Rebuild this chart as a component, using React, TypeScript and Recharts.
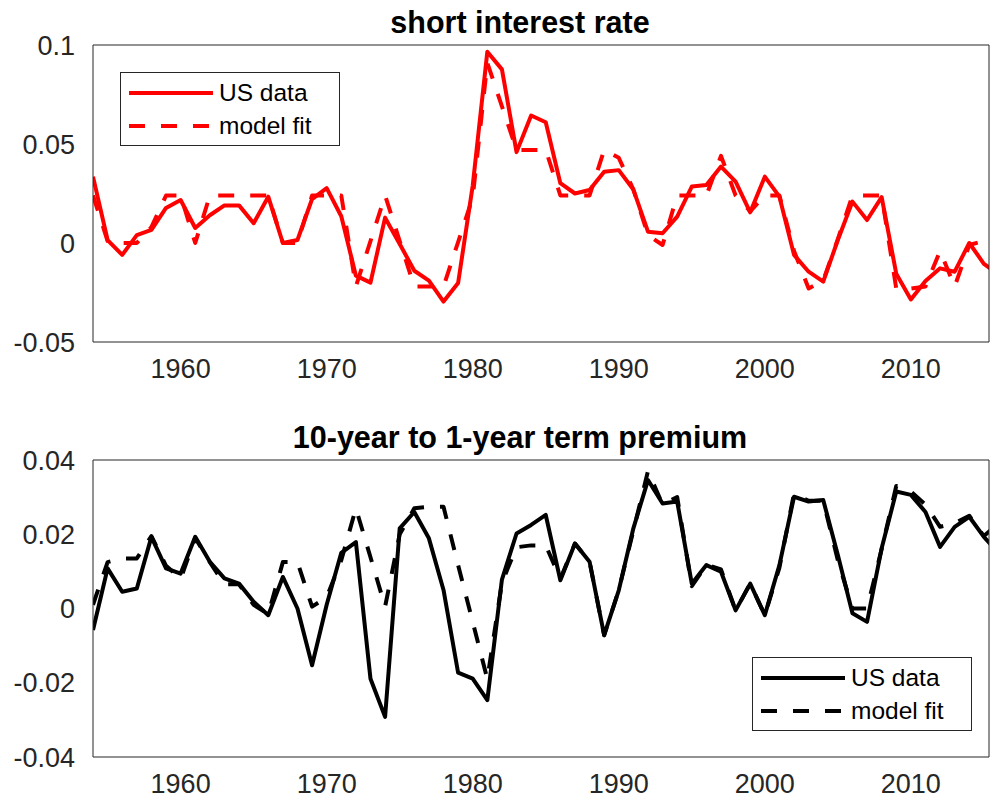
import { LineChart, Line, XAxis, YAxis, Legend } from 'recharts'

// annual observations
const years = [
  1954, 1955, 1956, 1957, 1958, 1959, 1960, 1961, 1962, 1963,
  1964, 1965, 1966, 1967, 1968, 1969, 1970, 1971, 1972, 1973,
  1974, 1975, 1976, 1977, 1978, 1979, 1980, 1981, 1982, 1983,
  1984, 1985, 1986, 1987, 1988, 1989, 1990, 1991, 1992, 1993,
  1994, 1995, 1996, 1997, 1998, 1999, 2000, 2001, 2002, 2003,
  2004, 2005, 2006, 2007, 2008, 2009, 2010, 2011, 2012, 2013,
  2014, 2015, 2016
]

// short interest rate
const rateUS = [
  0.0335, 0.0015, -0.006, 0.004, 0.0066, 0.0177, 0.0217, 0.0076, 0.014, 0.019,
  0.019, 0.010, 0.0234, 0.0, 0.0015, 0.0222, 0.0277, 0.0135, -0.0165, -0.020,
  0.0128, -0.0005, -0.014, -0.019, -0.0296, -0.0202, 0.029, 0.0966, 0.0877, 0.0459,
  0.0644, 0.061, 0.0302, 0.025, 0.0268, 0.036, 0.0368, 0.027, 0.0057, 0.0049,
  0.0133, 0.0285, 0.0293, 0.0386, 0.031, 0.0155, 0.0335, 0.0234, -0.006, -0.0145,
  -0.0195, 0.0015, 0.0209, 0.0116, 0.0232, -0.0155, -0.0285, -0.0192, -0.0128, -0.0145,
  0.0, -0.0105, -0.016
]
const rateModel = [
  0.024, 0.001, 0.0, 0.0, 0.008, 0.024, 0.024, 0.0, 0.024, 0.024,
  0.024, 0.024, 0.024, 0.0, 0.0, 0.024, 0.024, 0.024, -0.022, 0.001,
  0.024, 0.001, -0.022, -0.022, -0.022, 0.0005, 0.023, 0.091, 0.069, 0.047,
  0.047, 0.047, 0.024, 0.024, 0.024, 0.047, 0.043, 0.027, 0.004, -0.001,
  0.024, 0.024, 0.024, 0.044, 0.024, 0.016, 0.024, 0.024, -0.004, -0.023,
  -0.019, 0.002, 0.024, 0.024, 0.024, -0.023, -0.023, -0.022, -0.004, -0.022,
  -0.001, 0.001, -0.005
]

// 10-year to 1-year term premium
const premiumUS = [
  -0.0058, 0.0108, 0.0045, 0.0054, 0.0193, 0.0108, 0.0094, 0.0193, 0.0126, 0.0081,
  0.0067, 0.0018, -0.0018, 0.0085, 0.0, -0.0153, 0.001, 0.015, 0.0179, -0.0189,
  -0.0292, 0.0216, 0.026, 0.0189, 0.005, -0.0173, -0.0189, -0.0247, 0.0078, 0.0202,
  0.0225, 0.0252, 0.0076, 0.0175, 0.0126, -0.0072, 0.0049, 0.0216, 0.0346, 0.0283,
  0.0288, 0.0067, 0.0117, 0.0099, -0.0005, 0.0067, -0.0018, 0.0117, 0.0301, 0.0288,
  0.0292, 0.0144, -0.0013, -0.0036, 0.0162, 0.0315, 0.0306, 0.026, 0.0166, 0.022,
  0.0247, 0.0193, 0.015
]
const premiumModel = [
  0.001, 0.0125, 0.0135, 0.0135, 0.0195, 0.0115, 0.008, 0.019, 0.0125, 0.0065,
  0.0065, 0.001, -0.0015, 0.0125, 0.0125, 0.0005, 0.003, 0.013, 0.027, 0.0138,
  0.0005, 0.02, 0.027, 0.0274, 0.0274, 0.0117, -0.0036, -0.019, 0.007, 0.0165,
  0.017, 0.017, 0.008, 0.0175, 0.0126, -0.0072, 0.005, 0.021, 0.037, 0.028,
  0.030, 0.006, 0.0118, 0.0105, -0.0005, 0.0067, -0.0018, 0.011, 0.031, 0.029,
  0.029, 0.013, 0.0, 0.0, 0.016, 0.033, 0.0315, 0.028, 0.022, 0.023,
  0.025, 0.0195, 0.023
]

const seriesNames = ['US data', 'model fit']

const yearTicks = [1960, 1970, 1980, 1990, 2000, 2010]
const rateTicks = [-0.05, 0, 0.05, 0.1]
const rateTickLabels = ['-0.05', '0', '0.05', '0.1']
const premiumTicks = [-0.04, -0.02, 0, 0.02, 0.04]
const premiumTickLabels = ['-0.04', '-0.02', '0', '0.02', '0.04']

const FONT = '"Liberation Sans", Arial, Helvetica, sans-serif'
const AXIS = '#262626'
const X_DOMAIN: [number, number] = [1954, 2015.35]

const rateRows = years.map((year, i) => ({ year, data: rateUS[i], model: rateModel[i] }))
const premiumRows = years.map((year, i) => ({ year, data: premiumUS[i], model: premiumModel[i] }))

function LegendBox({ payload }: any) {
  return (
    <div
      style={{
        width: 220,
        height: 74,
        boxSizing: 'border-box',
        border: `1px solid ${AXIS}`,
        background: '#fff',
        position: 'relative',
        fontFamily: FONT,
        fontSize: 24.5,
        color: '#000'
      }}
    >
      {(payload || []).map((entry: any, i: number) => (
        <div
          key={entry.value}
          style={{ position: 'absolute', left: 8, top: 5 + i * 33, height: 30, display: 'flex', alignItems: 'center' }}
        >
          <svg width={84} height={8} style={{ display: 'block' }}>
            <line
              x1={0}
              x2={84}
              y1={4}
              y2={4}
              stroke={entry.color}
              strokeWidth={4}
              strokeDasharray={entry.payload?.strokeDasharray}
            />
          </svg>
          <span style={{ marginLeft: 6, whiteSpace: 'nowrap' }}>{entry.value}</span>
        </div>
      ))}
    </div>
  )
}

interface PanelProps {
  title: string
  rows: any[]
  color: string
  yDomain: [number, number]
  yTicks: number[]
  yLabels: string[]
  top: number
  height: number
  plotTop: number
  axisHeight: number
  titleTop: number
  legendLeft: number
  legendTop: number
}

function Panel({ title, rows, color, yDomain, yTicks, yLabels, top, height, plotTop, axisHeight, titleTop, legendLeft, legendTop }: PanelProps) {
  const tickStyle = { fontSize: 27, fill: AXIS, fontFamily: FONT }
  return (
    <div style={{ position: 'absolute', left: 0, top, width: 990, height }}>
      <div
        style={{
          position: 'absolute',
          left: 20,
          width: 1000,
          top: titleTop,
          textAlign: 'center',
          fontFamily: FONT,
          fontWeight: 'bold',
          fontSize: 30.5,
          lineHeight: '32px',
          color: '#000',
          whiteSpace: 'nowrap'
        }}
      >
        {title}
      </div>
      <LineChart width={990} height={height} data={rows} margin={{ top: plotTop, right: 1, bottom: 0, left: 0 }}>
        <XAxis
          xAxisId="bottom"
          dataKey="year"
          type="number"
          domain={X_DOMAIN}
          allowDataOverflow
          ticks={yearTicks}
          height={axisHeight}
          tickLine={false}
          tickSize={0}
          tickMargin={17}
          tick={tickStyle}
          axisLine={{ stroke: AXIS }}
        />
        <XAxis
          xAxisId="bottomTicks"
          dataKey="year"
          type="number"
          orientation="bottom"
          mirror
          domain={X_DOMAIN}
          allowDataOverflow
          ticks={yearTicks}
          tick={false}
          tickSize={10}
          tickLine={{ stroke: AXIS }}
          axisLine={false}
        />
        <XAxis
          xAxisId="top"
          dataKey="year"
          type="number"
          orientation="top"
          mirror
          domain={X_DOMAIN}
          allowDataOverflow
          ticks={yearTicks}
          tick={false}
          tickSize={10}
          tickLine={{ stroke: AXIS }}
          axisLine={{ stroke: AXIS }}
        />
        <YAxis
          yAxisId="left"
          type="number"
          domain={yDomain}
          allowDataOverflow
          ticks={yTicks}
          width={93}
          tickLine={false}
          tickSize={0}
          tickMargin={18}
          tick={tickStyle}
          tickFormatter={(v: number) => yLabels[yTicks.indexOf(v)] ?? String(v)}
          axisLine={{ stroke: AXIS }}
        />
        <YAxis
          yAxisId="leftTicks"
          type="number"
          orientation="left"
          mirror
          domain={yDomain}
          allowDataOverflow
          ticks={yTicks}
          tick={false}
          tickSize={10}
          tickLine={{ stroke: AXIS }}
          axisLine={false}
        />
        <YAxis
          yAxisId="right"
          type="number"
          orientation="right"
          mirror
          domain={yDomain}
          allowDataOverflow
          ticks={yTicks}
          tick={false}
          tickSize={10}
          tickLine={{ stroke: AXIS }}
          axisLine={{ stroke: AXIS }}
        />
        <Legend
          layout="vertical"
          align="center"
          verticalAlign="middle"
          content={<LegendBox />}
          wrapperStyle={{ left: legendLeft, top: legendTop, width: 220, height: 74 }}
        />
        <Line
          xAxisId="bottom"
          yAxisId="left"
          type="linear"
          dataKey="data"
          name={seriesNames[0]}
          stroke={color}
          strokeWidth={4}
          strokeLinejoin="round"
          dot={false}
          activeDot={false}
          isAnimationActive={false}
        />
        <Line
          xAxisId="bottom"
          yAxisId="left"
          type="linear"
          dataKey="model"
          name={seriesNames[1]}
          stroke={color}
          strokeWidth={4}
          strokeDasharray="16 16"
          strokeLinejoin="round"
          dot={false}
          activeDot={false}
          isAnimationActive={false}
        />
      </LineChart>
    </div>
  )
}

export default function App() {
  return (
    <div style={{ position: 'absolute', left: 0, top: 0, width: 990, height: 801, background: '#fff', overflow: 'hidden' }}>
      <Panel
        title="short interest rate"
        rows={rateRows}
        color="#ff0000"
        yDomain={[-0.05, 0.1]}
        yTicks={rateTicks}
        yLabels={rateTickLabels}
        top={0}
        height={400}
        plotTop={45}
        axisHeight={58}
        titleTop={6}
        legendLeft={120}
        legendTop={72}
      />
      <Panel
        title="10-year to 1-year term premium"
        rows={premiumRows}
        color="#000000"
        yDomain={[-0.04, 0.04]}
        yTicks={premiumTicks}
        yLabels={premiumTickLabels}
        top={400}
        height={401}
        plotTop={60}
        axisHeight={44}
        titleTop={21}
        legendLeft={752}
        legendTop={257}
      />
    </div>
  )
}
